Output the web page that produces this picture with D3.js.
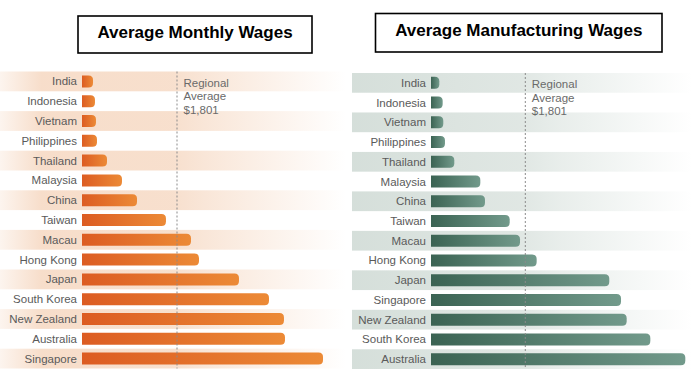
<!DOCTYPE html>
<html><head><meta charset="utf-8">
<script src="https://cdn.jsdelivr.net/npm/d3@7"></script>
<style>body{margin:0;background:#fff}svg{display:block}</style>
</head><body>
<script>
// ---- data ----
const wageCountries = ["India","Indonesia","Vietnam","Philippines","Thailand","Malaysia","China","Taiwan","Macau","Hong Kong","Japan","South Korea","New Zealand","Australia","Singapore"];
const wageValues    = [209,246,265,284,474,758,1043,1592,2066,2218,2976,3545,3829,3848,4569];
const mfgCountries  = ["India","Indonesia","Vietnam","Philippines","Thailand","Malaysia","China","Taiwan","Macau","Hong Kong","Japan","Singapore","New Zealand","South Korea","Australia"];
const mfgValues     = [159,223,235,267,445,942,1031,1503,1700,2018,3405,3629,3737,4189,4857];
const regionalAverage = 1801;
const averageLabel = ["Regional","Average","$1,801"];
const titles = ["Average Monthly Wages","Average Manufacturing Wages"];

const W = 692, H = 383;
const svg = d3.select("body").append("svg").attr("width", W).attr("height", H);
const defs = svg.append("defs");
const font = "'Liberation Sans', Arial, sans-serif";

function grad(id, stops, x2="100%", y2="0%") {
  const g = defs.append("linearGradient").attr("id", id)
    .attr("x1","0%").attr("y1","0%").attr("x2",x2).attr("y2",y2);
  stops.forEach(s => g.append("stop").attr("offset", s[0]).attr("stop-color", s[1]).attr("stop-opacity", s[2] ?? 1));
}
grad("stripeL", [[0,"#f5d5bd",0.25],[0.12,"#f5d5bd",0.8],[0.5,"#f5d5bd",0.75],[0.62,"#f5d5bd",0.55],[1,"#f5d5bd",0]]);
grad("stripeR", [[0,"#d3ddd8",0.95],[0.5,"#d3ddd8",0.7],[0.62,"#d3ddd8",0.5],[1,"#d3ddd8",0]]);
grad("barL", [[0,"#dc5c22"],[1,"#ec8a36"]]);
grad("barR", [[0,"#3b6353"],[1,"#729a8b"]]);

const panels = [
  {countries: wageCountries, values: wageValues, x0: 82, xAvg: 177, labelX: 77, yRange: [71.5, 368.5],
   stripeX: 0, stripeW: 346, stripe: "url(#stripeL)", bar: "url(#barL)",
   box: [78, 16, 234, 37], title: titles[0], titleY: 38},
  {countries: mfgCountries, values: mfgValues, x0: 431, xAvg: 525.3, labelX: 426, yRange: [73, 369],
   stripeX: 352, stripeW: 340, stripe: "url(#stripeR)", bar: "url(#barR)",
   box: [375.5, 13.5, 286.5, 38.5], title: titles[1], titleY: 36}
];

const barH = 12, r = 4.5;
function barPath(x0, x1, yc) {
  const y0 = yc - barH/2, y1 = yc + barH/2;
  const rr = Math.min(r, (x1 - x0));
  return `M${x0},${y0}H${x1-rr}Q${x1},${y0} ${x1},${y0+rr}V${y1-rr}Q${x1},${y1} ${x1-rr},${y1}H${x0}Z`;
}

panels.forEach(p => {
  const g = svg.append("g");
  const y = d3.scaleBand().domain(p.countries).range(p.yRange).padding(0);
  const x = d3.scaleLinear().domain([0, regionalAverage]).range([p.x0, p.xAvg]);

  // stripes on alternate rows
  g.selectAll("rect.stripe").data(p.countries.filter((d,i) => i % 2 === 0)).join("rect")
    .attr("x", p.stripeX).attr("width", p.stripeW)
    .attr("y", d => y(d)).attr("height", y.bandwidth())
    .attr("fill", p.stripe);

  // title box
  g.append("rect").attr("x", p.box[0]).attr("y", p.box[1]).attr("width", p.box[2]).attr("height", p.box[3])
    .attr("fill", "#fff").attr("stroke", "#000").attr("stroke-width", 1.6);
  g.append("text").attr("x", p.box[0] + p.box[2]/2).attr("y", p.titleY)
    .attr("text-anchor", "middle").attr("font-family", font).attr("font-weight", "bold")
    .attr("font-size", 17).attr("fill", "#000").text(p.title);

  // labels
  g.selectAll("text.lab").data(p.countries).join("text")
    .attr("x", p.labelX).attr("y", d => y(d) + y.bandwidth()/2 + 4)
    .attr("text-anchor", "end").attr("font-family", font).attr("font-size", 11.5)
    .attr("fill", "#5a5a5a").text(d => d);

  // bars
  g.selectAll("path.bar").data(p.values).join("path")
    .attr("d", (v,i) => barPath(x(0), x(v), y(p.countries[i]) + y.bandwidth()/2))
    .attr("fill", p.bar);

  // average line
  g.append("line").attr("x1", x(regionalAverage)).attr("x2", x(regionalAverage))
    .attr("y1", p.yRange[0]).attr("y2", p.yRange[1])
    .attr("stroke", "#8a8a8a").attr("stroke-width", 1).attr("stroke-dasharray", "2,2");

  g.selectAll("text.avg").data(averageLabel).join("text")
    .attr("x", x(regionalAverage) + 6.5).attr("y", (d,i) => p.yRange[0] + 15 + i * 13.5)
    .attr("font-family", font).attr("font-size", 11.5).attr("fill", "#6a6a6a").text(d => d);
});
</script>
</body></html>
